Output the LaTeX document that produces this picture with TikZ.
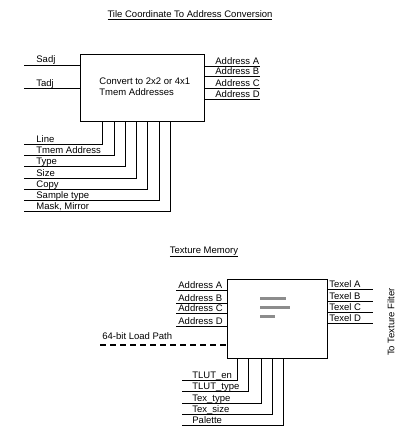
\documentclass[tikz,border=0pt]{standalone}
\usepackage{fontspec}
\setmainfont{Liberation Sans}
\begin{document}
\begin{tikzpicture}[x=1pt,y=-1pt,font=\fontsize{9.5}{11}\selectfont,line width=0.8pt,
  lbl/.style={anchor=base west,inner sep=0pt},
  blk/.style={draw,line width=0.8pt,anchor=north west,inner sep=0pt},
  bar/.style={fill=black!45}]
\useasboundingbox (0,0) rectangle (419,436);
% ---------- Tile coordinate to address conversion ----------
\node[inner sep=0pt,anchor=base] (t1) at (190,18) {\underline{Tile Coordinate To Address Conversion}};
\node[blk,minimum width=124pt,minimum height=67pt] (conv) at (80,54) {};
\node[anchor=north west,inner sep=0pt,align=left] (convtxt) at (99,77) {Convert to 2x2 or 4x1\\Tmem Addresses};
% inputs
\coordinate (sa) at (24,65);
\coordinate (ta) at (24,88);
\draw (sa) -- (sa -| conv.west);
\draw (ta) -- (ta -| conv.west);
\node[lbl] (lsa) at (36,63) {Sadj};
\node[lbl] (lta) at (36,86) {Tadj};
% outputs
\foreach \y/\t [count=\i] in {66/A,76/B,88/C,99/D}{
  \coordinate (oa\i) at (260,\y);
  \draw (oa\i -| conv.east) -- (oa\i);
  \node[lbl] (loa\i) at (215,\y-1.5) {Address \t};
}
% bottom inputs
\foreach \x/\y/\t [count=\i] in {102/144/Line,114/155/Tmem Address,125/166/Type,136/178/Size,147/189/Copy,159/200/Sample type,170/211/{Mask, Mirror}}{
  \coordinate (bi\i) at (24,\y);
  \draw (bi\i) -| (\x,0 |- conv.south);
  \node[lbl] (lbi\i) at (36,\y-1.5) {\t};
}
% ---------- Texture memory ----------
\node[inner sep=0pt,anchor=base] (t2) at (204,253) {\underline{Texture Memory}};
\node[blk,minimum width=100pt,minimum height=79pt] (tm) at (227,279) {};
\fill[bar] (260,297) rectangle (286,300);
\fill[bar] (260,306) rectangle (290,309);
\fill[bar] (260,315) rectangle (275,318);
% address inputs
\foreach \y/\t [count=\i] in {290/A,303/B,313/C,326/D}{
  \coordinate (ta\i) at (176,\y);
  \draw (ta\i) -- (ta\i -| tm.west);
  \node[lbl] (lta\i) at (178,\y-1.5) {Address \t};
}
% texel outputs
\foreach \y/\t [count=\i] in {289/A,301/B,312/C,323/D}{
  \coordinate (tx\i) at (373,\y);
  \draw (tx\i -| tm.east) -- (tx\i);
  \node[lbl] (ltx\i) at (329,\y-1.5) {Texel \t};
}
\node[rotate=90,inner sep=0pt] (filt) at (391,322) {To Texture Filter};
% load path
\coordinate (lp) at (100,345);
\draw[line width=2.6pt,dash pattern=on 6pt off 4pt] (lp) -- (lp -| tm.west);
\node[lbl] (llp) at (102,339) {64-bit Load Path};
% bottom inputs
\foreach \x/\y/\t [count=\i] in {237/380/TLUT\_en,248/391/TLUT\_type,261/403/Tex\_type,272/414/Tex\_size,283/425/Palette}{
  \coordinate (bt\i) at (182,\y);
  \draw (bt\i) -| (\x,0 |- tm.south);
  \node[lbl] (lbt\i) at (192,\y-1.5) {\t};
}
\end{tikzpicture}
\end{document}
